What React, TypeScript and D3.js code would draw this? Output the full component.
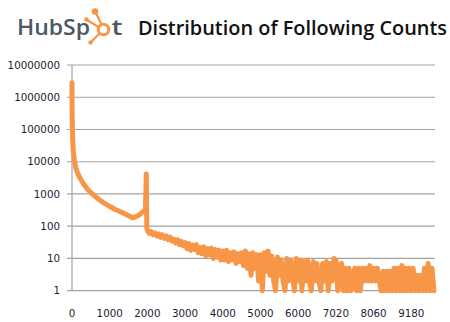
import React from "react";
import * as d3 from "d3";

// ---- data ----
const headIdx = [0, 2, 5, 10, 20, 35, 60, 100, 150, 220, 300, 400, 500, 600, 725, 850, 1000, 1150, 1300, 1450, 1550, 1610, 1660, 1745, 1820, 1900, 1950, 1970, 1985];
const headVal = [2800000, 600000, 250000, 120000, 45000, 22000, 11500, 6500, 4400, 3000, 2100, 1450, 1100, 870, 660, 520, 410, 330, 275, 225, 200, 182, 192, 210, 245, 290, 340, 4200, 90];

// tail sampled every 50 categories starting at 2000
const tailStart = 2000;
const tailStep = 50;
const tailA = [75, 60, 68, 55, 62, 50, 58, 45, 54, 42, 50, 38, 46, 35, 40, 30, 38, 27, 34, 25];
const tailB = [31, 20, 29, 18, 26, 19, 27, 15, 22, 14, 23, 12, 20, 13, 21, 10, 19, 11, 18, 9];
const tailC = [17, 9, 18, 8, 15, 9, 16, 7, 14, 8, 15, 6, 17, 5, 14, 3, 15, 5, 13, 2];
const tailD = [13, 1, 15, 4, 17, 3, 12, 2, 1, 11, 3, 9, 2, 1, 10, 2, 9, 3, 1, 10];
const tailE = [2, 9, 1, 8, 2, 9, 2, 1, 8, 2, 7, 2, 1, 7, 2, 8, 1, 7, 2, 10];
const tailF = [9, 1, 6, 7, 1, 5, 1, 5, 1, 2, 5, 1, 5, 1, 5, 2, 5, 2, 6, 2];
const tailG = [5, 2, 5, 2, 1, 4, 1, 4, 1, 4, 1, 5, 1, 5, 1, 6, 1, 5, 1, 5];
const tailH = [1, 5, 1, 3, 1, 3, 1, 5, 1, 7, 1, 5, 1];

const xTickIdx = [0, 1000, 2000, 3000, 4000, 5000, 6000, 7000, 8000, 9000];
const xTickLabels = ["0", "1000", "2000", "3000", "4000", "5000", "6000", "7020", "8060", "9180"];
const yTicks = [1, 10, 100, 1000, 10000, 100000, 1000000, 10000000];
const xMax = 9630;

const W = 450;
const H = 322;
const ORANGE = "#F79646";
const GRID = "#A3A3A3";
const LABEL = "#1c1c30";
const LOGO = "#4B5866";

export default function App() {
  const tail = [...tailA, ...tailB, ...tailC, ...tailD, ...tailE, ...tailF, ...tailG, ...tailH];
  const points: [number, number][] = [
    ...headIdx.map((d, i) => [d, headVal[i]] as [number, number]),
    ...tail.map((v, i) => [tailStart + i * tailStep, v] as [number, number]),
  ];

  const x = d3.scaleLinear().domain([0, xMax]).range([72, 435]);
  const y = d3.scaleLog().domain([1, 1e7]).range([290.7, 65]);

  const line = d3
    .line<[number, number]>()
    .x((d) => x(d[0]))
    .y((d) => y(d[1]))
    .curve(d3.curveLinear);

  return (
    <svg
      width={W}
      height={H}
      viewBox={`0 0 ${W} ${H}`}
      style={{ position: "absolute", left: 0, top: 0, background: "#fff" }}
    >
      {/* HubSpot logo */}
      <g>
        <text
          x={17}
          y={35}
          fontFamily="'Open Sans', 'DejaVu Sans', sans-serif"
          fontWeight={600}
          fontSize={21}
          fill={LOGO}
          textLength={73}
          lengthAdjust="spacingAndGlyphs"
        >
          HubSp
        </text>
        {/* sprocket */}
        <g stroke={ORANGE} fill="none">
          <circle cx={103.5} cy={29.5} r={5.3} strokeWidth={3} />
          <line x1={101.5} y1={24.5} x2={95.5} y2={12} strokeWidth={2.3} />
          <line x1={98.5} y1={27} x2={87} y2={20} strokeWidth={2.2} />
          <line x1={99.5} y1={33.5} x2={91} y2={42} strokeWidth={2.2} />
        </g>
        <circle cx={95} cy={11.5} r={3.3} fill={ORANGE} />
        <circle cx={86.5} cy={19.5} r={2.2} fill={ORANGE} />
        <circle cx={90.5} cy={42.5} r={2.2} fill={ORANGE} />
        <text
          x={111.5}
          y={35}
          fontFamily="'Open Sans', 'DejaVu Sans', sans-serif"
          fontWeight={600}
          fontSize={21}
          fill={LOGO}
          textLength={11}
          lengthAdjust="spacingAndGlyphs"
        >
          t
        </text>
      </g>
      <text
        x={138}
        y={35}
        fontFamily="'Open Sans', 'DejaVu Sans', sans-serif"
        fontWeight={600}
        fontSize={20}
        fill="#111"
        textLength={309}
        lengthAdjust="spacingAndGlyphs"
      >
        Distribution of Following Counts
      </text>

      {/* gridlines */}
      {yTicks.map((t) => (
        <line key={t} x1={67} x2={435} y1={y(t)} y2={y(t)} stroke={GRID} strokeWidth={1.2} />
      ))}
      {/* y axis */}
      <line x1={72} x2={72} y1={y(1e7)} y2={y(1)} stroke={GRID} strokeWidth={1.2} />

      {/* y labels */}
      {yTicks.map((t) => (
        <text
          key={"l" + t}
          x={60}
          y={y(t)}
          dy="0.36em"
          textAnchor="end"
          fontFamily="'DejaVu Sans', Verdana, sans-serif"
          fontSize={10.3}
          fill={LABEL}
        >
          {String(t)}
        </text>
      ))}
      {/* x labels */}
      {xTickIdx.map((t, i) => (
        <text
          key={"x" + t}
          x={x(t)}
          y={316.5}
          textAnchor="middle"
          fontFamily="'DejaVu Sans', Verdana, sans-serif"
          fontSize={10.3}
          fill={LABEL}
        >
          {xTickLabels[i]}
        </text>
      ))}

      {/* series */}
      <path
        d={line(points) || ""}
        fill="none"
        stroke={ORANGE}
        strokeWidth={5}
        strokeLinejoin="round"
        strokeLinecap="round"
      />
    </svg>
  );
}
